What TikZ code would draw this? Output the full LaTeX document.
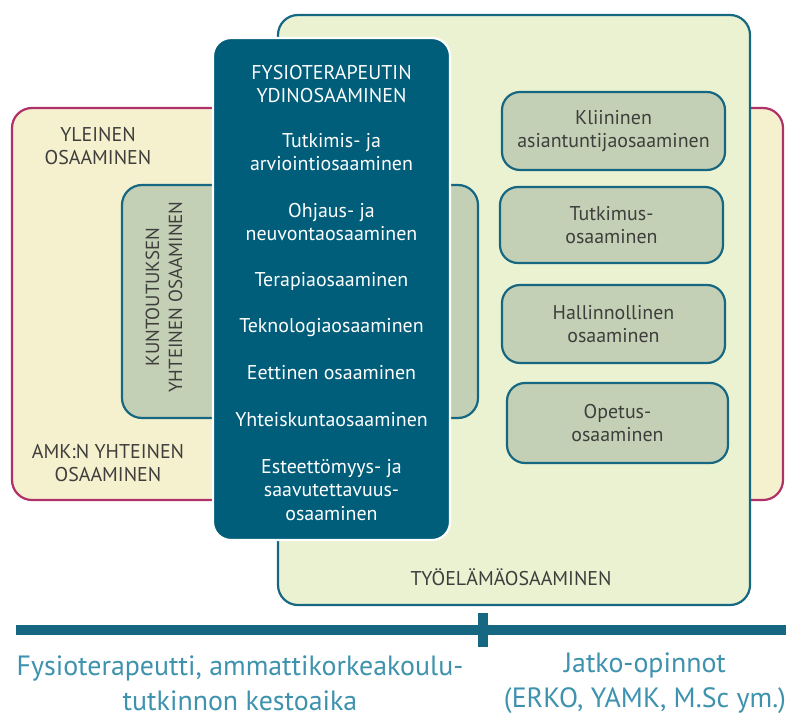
\documentclass[tikz,border=0pt]{standalone}
\usepackage{fontspec}
\setmainfont{PT Sans}
\usetikzlibrary{positioning}
\definecolor{yleinenfill}{RGB}{245,241,206}
\definecolor{yleinenline}{RGB}{176,48,106}
\definecolor{tyofill}{RGB}{234,242,210}
\definecolor{tealline}{RGB}{22,104,130}
\definecolor{ydinfill}{RGB}{0,94,122}
\definecolor{osafill}{RGB}{196,208,181}
\definecolor{harmaa}{RGB}{62,62,60}
\definecolor{aikateksti}{RGB}{62,146,174}

\begin{document}
\begin{tikzpicture}[x=1bp, y=-1bp,
	area/.style = {draw, line width=2.2bp, rounded corners=20bp, inner sep=0pt},
	osa/.style = {area, draw=tealline, fill=osafill, rounded corners=18bp, text=harmaa, align=center, font=\fontsize{20}{23}\selectfont},
	label/.style = {text=harmaa, align=center, font=\fontsize{20}{23}\selectfont},
	ydin/.style = {text=white, align=center, font=\fontsize{20}{23.5}\selectfont},
	aika/.style = {text=aikateksti, align=center, font=\fontsize{28}{35}\selectfont}]
		\useasboundingbox (0,0) rectangle (786,718);
		% taustalaatikot
		\node[area, draw=yleinenline, fill=yleinenfill, minimum width=771bp, minimum height=392bp] (yleinen) at (397.5,304) {};
		\node[area, draw=tealline, fill=tyofill, minimum width=472bp, minimum height=590bp] (tyo) at (514,310) {};
		\node[area, draw=tealline, fill=osafill, minimum width=356bp, minimum height=233bp] (kuntoutus) at (300,301.5) {};
		\node[area, draw=white, fill=ydinfill, rounded corners=18bp, minimum width=237bp, minimum height=502bp] (ydin) at (331.5,289) {};
		% tekstit
		\node[label] (yleinenteksti) at (98,146) {YLEINEN\\OSAAMINEN};
		\node[label] (amkteksti) at (108,463) {AMK:N YHTEINEN\\OSAAMINEN};
		\node[label, rotate=90, font=\fontsize{19}{23}\selectfont] (kuntoutusteksti) at (164,297) {KUNTOUTUKSEN\\YHTEINEN OSAAMINEN};
		\node[label] (tyoteksti) at (511,577) {TYÖELÄMÄOSAAMINEN};
		\node[ydin] (y1) at (331.5,84) {FYSIOTERAPEUTIN\\YDINOSAAMINEN};
		\node[ydin] (y2) at (331.5,152) {Tutkimis- ja\\arviointiosaaminen};
		\node[ydin] (y3) at (331.5,222) {Ohjaus- ja\\neuvontaosaaminen};
		\node[ydin] (y4) at (331.5,281) {Terapiaosaaminen};
		\node[ydin] (y5) at (331.5,328) {Teknologiaosaaminen};
		\node[ydin] (y6) at (331.5,373) {Eettinen osaaminen};
		\node[ydin] (y7) at (331.5,420) {Yhteiskuntaosaaminen};
		\node[ydin] (y8) at (331.5,490) {Esteettömyys- ja\\saavutettavuus-\\osaaminen};
		% tyoelaman osaamiset
		\node[osa, minimum width=223bp, minimum height=78bp] (kliininen) at (613.5,131) {Kliininen\\asiantuntijaosaaminen};
		\node[osa, minimum width=223bp, minimum height=76bp] (tutkimus) at (611.5,225) {Tutkimus-\\osaaminen};
		\node[osa, minimum width=223bp, minimum height=78bp] (hallinto) at (613.5,324) {Hallinnollinen\\osaaminen};
		\node[osa, minimum width=221bp, minimum height=80bp] (opetus) at (617.5,423) {Opetus-\\osaaminen};
		% aikajana
		\coordinate (alku) at (16,630);
		\coordinate (loppu) at (786,630);
		\coordinate (rajaylä) at (483,613);
		\coordinate (rajaala) at (483,647);
		\draw[tealline, line width=10bp] (alku) -- (loppu);
		\draw[tealline, line width=10bp] (rajaylä) -- (rajaala);
		\node[aika] (amk) at (240,683) {Fysioterapeutti, ammattikorkeakoulu-\\tutkinnon kestoaika};
		\node[aika] (jatko) at (645,683) {Jatko-opinnot\\(ERKO, YAMK, M.Sc ym.)};
	\end{tikzpicture}
\end{document}
